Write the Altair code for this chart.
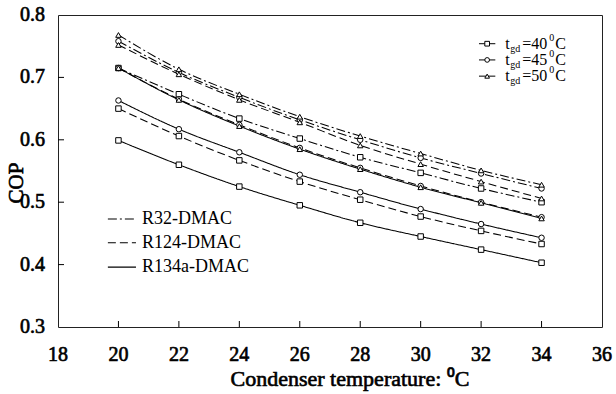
import altair as alt
import pandas as pd

# Condenser temperature (°C)
cond_temp = [20, 22, 24, 26, 28, 30, 32, 34]

# COP for each working pair at generator temperatures of 40, 45 and 50 °C
r32_40 = [0.715, 0.673, 0.634, 0.602, 0.572, 0.547, 0.522, 0.500]
r32_45 = [0.758, 0.708, 0.668, 0.632, 0.600, 0.571, 0.546, 0.522]
r32_50 = [0.768, 0.713, 0.673, 0.637, 0.606, 0.578, 0.551, 0.528]
r124_40 = [0.650, 0.606, 0.567, 0.533, 0.504, 0.477, 0.454, 0.433]
r124_45 = [0.715, 0.665, 0.624, 0.587, 0.555, 0.526, 0.500, 0.476]
r124_50 = [0.752, 0.705, 0.664, 0.628, 0.591, 0.561, 0.533, 0.506]
r134a_40 = [0.599, 0.560, 0.525, 0.495, 0.467, 0.445, 0.424, 0.403]
r134a_45 = [0.663, 0.617, 0.580, 0.544, 0.516, 0.489, 0.465, 0.443]
r134a_50 = [0.715, 0.664, 0.622, 0.585, 0.553, 0.524, 0.499, 0.474]

pairs = ["R32-DMAC", "R124-DMAC", "R134a-DMAC"]
gen_temps = ["40", "45", "50"]
x_ticks = [18, 20, 22, 24, 26, 28, 30, 32, 34, 36]
y_ticks = [0.3, 0.4, 0.5, 0.6, 0.7, 0.8]
x_title = "Condenser temperature: \u2070C"
y_title = "COP"

series = {
    ("R32-DMAC", "40"): r32_40, ("R32-DMAC", "45"): r32_45, ("R32-DMAC", "50"): r32_50,
    ("R124-DMAC", "40"): r124_40, ("R124-DMAC", "45"): r124_45, ("R124-DMAC", "50"): r124_50,
    ("R134a-DMAC", "40"): r134a_40, ("R134a-DMAC", "45"): r134a_45, ("R134a-DMAC", "50"): r134a_50,
}

rows = []
for (pair, tg), values in series.items():
    for t, c in zip(cond_temp, values):
        rows.append({"T": t, "COP": c, "pair": pair, "tgd": tg, "series": f"{pair} {tg}"})
df = pd.DataFrame(rows)

FONT = "Liberation Serif"
W, H = 544, 312

x_scale = alt.Scale(domain=[18, 36], nice=False)
y_scale = alt.Scale(domain=[0.3, 0.8], nice=False, zero=False)
dash_scale = alt.Scale(domain=pairs, range=[[9, 3, 2, 3], [8, 4], [1, 0]])
shape_scale = alt.Scale(domain=gen_temps, range=["square", "circle", "triangle-up"])


def xq(field):
    return alt.X(field, type="quantitative", scale=x_scale, axis=None)


def yq(field):
    return alt.Y(field, type="quantitative", scale=y_scale, axis=None)


# Heavy serif text: regular face with a thin outline of the same colour
def heavy_text(size=20, **kw):
    return dict(font=FONT, fontSize=size, color="black", stroke="black",
                strokeWidth=0.65, **kw)


base = alt.Chart(df)

lines = base.mark_line(color="black", strokeWidth=1.05, interpolate="monotone").encode(
    x=xq("T"), y=yq("COP"),
    detail="series:N",
    strokeDash=alt.StrokeDash("pair:N", scale=dash_scale, legend=None),
)

points = base.mark_point(filled=True, fill="white", stroke="black", strokeWidth=1,
                         size=30, opacity=1).encode(
    x=xq("T"), y=yq("COP"),
    shape=alt.Shape("tgd:N", scale=shape_scale, legend=None),
)

# Inward-pointing tick marks on the bottom and left frame
xt = pd.DataFrame({"T": x_ticks})
yt = pd.DataFrame({"COP": y_ticks})
x_tick_marks = alt.Chart(xt).transform_filter(
    "datum.T > 18 && datum.T < 36"
).mark_rule(color="black", strokeWidth=1).encode(
    x=xq("T"), y=alt.value(H), y2=alt.value(H - 6),
)
y_tick_marks = alt.Chart(yt).transform_filter(
    "datum.COP > 0.31 && datum.COP < 0.79"
).mark_rule(color="black", strokeWidth=1).encode(
    y=yq("COP"), x=alt.value(0), x2=alt.value(6),
)

# Tick labels and axis titles
x_labels = alt.Chart(xt).mark_text(**heavy_text(align="center", baseline="middle")).encode(
    x=xq("T"), y=alt.value(H + 28), text=alt.Text("T:Q", format="d"),
)
y_labels = alt.Chart(yt).mark_text(**heavy_text(align="right", baseline="middle")).encode(
    y=yq("COP"), x=alt.value(-13), text=alt.Text("COP:Q", format=".1f"),
)
titles = pd.DataFrame({"x_title": [x_title], "y_title": [y_title]})
x_title_mark = alt.Chart(titles).mark_text(
    **heavy_text(size=22, align="center", baseline="alphabetic")
).encode(x=alt.value(292), y=alt.value(H + 59), text="x_title:N")
y_title_mark = alt.Chart(titles).mark_text(
    **heavy_text(size=21, align="center", baseline="middle", angle=270)
).encode(x=alt.value(-41), y=alt.value(168), text="y_title:N")

# Generator-temperature key (top right)
key_gen = pd.DataFrame({
    "tgd": gen_temps,
    "y": [0.754, 0.728, 0.702],
    "x": [32.2] * 3, "x0": [31.93] * 3, "x1": [32.47] * 3,
    "val": ["=" + g for g in gen_temps],
})
kg = alt.Chart(key_gen)
kg_line = kg.mark_rule(color="black", strokeWidth=1).encode(
    x=xq("x0"), x2="x1:Q", y=yq("y"),
)
kg_pt = kg.mark_point(filled=True, fill="white", stroke="black", strokeWidth=1,
                      size=22, opacity=1).encode(
    x=xq("x"), y=yq("y"),
    shape=alt.Shape("tgd:N", scale=shape_scale, legend=None),
)


def key_text(text_field, dx, size, dy=0):
    return kg.mark_text(font=FONT, fontSize=size, color="black", align="left",
                        baseline="middle", dx=dx, dy=dy).encode(
        x=xq("x"), y=yq("y"), text=text_field,
    )


kg_t = key_text(alt.value("t"), 18, 16)
kg_sub = key_text(alt.value("gd"), 23, 10, dy=5)
kg_val = key_text("val:N", 35, 16)
kg_sup = key_text(alt.value("0"), 62, 10, dy=-6)
kg_c = key_text(alt.value("C"), 68, 16)

# Working-pair key (lower left)
key_pair = pd.DataFrame({
    "pair": pairs,
    "y": [0.473, 0.435, 0.396],
    "x0": [19.65] * 3, "x1": [20.58] * 3,
})
kp = alt.Chart(key_pair)
kp_line = kp.mark_rule(color="black", strokeWidth=1.1).encode(
    x=xq("x0"), x2="x1:Q", y=yq("y"),
    strokeDash=alt.StrokeDash("pair:N", scale=dash_scale, legend=None),
)
kp_text = kp.mark_text(font=FONT, fontSize=18, color="black", align="left",
                       baseline="middle", dx=6).encode(
    x=xq("x1"), y=yq("y"), text="pair:N",
)

chart = alt.layer(
    lines, points, x_tick_marks, y_tick_marks,
    x_labels, y_labels, x_title_mark, y_title_mark,
    kg_line, kg_pt, kg_t, kg_sub, kg_val, kg_sup, kg_c,
    kp_line, kp_text,
).properties(
    width=W, height=H,
    autosize=alt.AutoSizeParams(type="none"),
    padding={"left": 58, "top": 15, "right": 14, "bottom": 67},
    background="white",
).configure_view(stroke="#222", strokeWidth=1)

chart.save("out.html", embed_options={"renderer": "svg", "actions": False})
